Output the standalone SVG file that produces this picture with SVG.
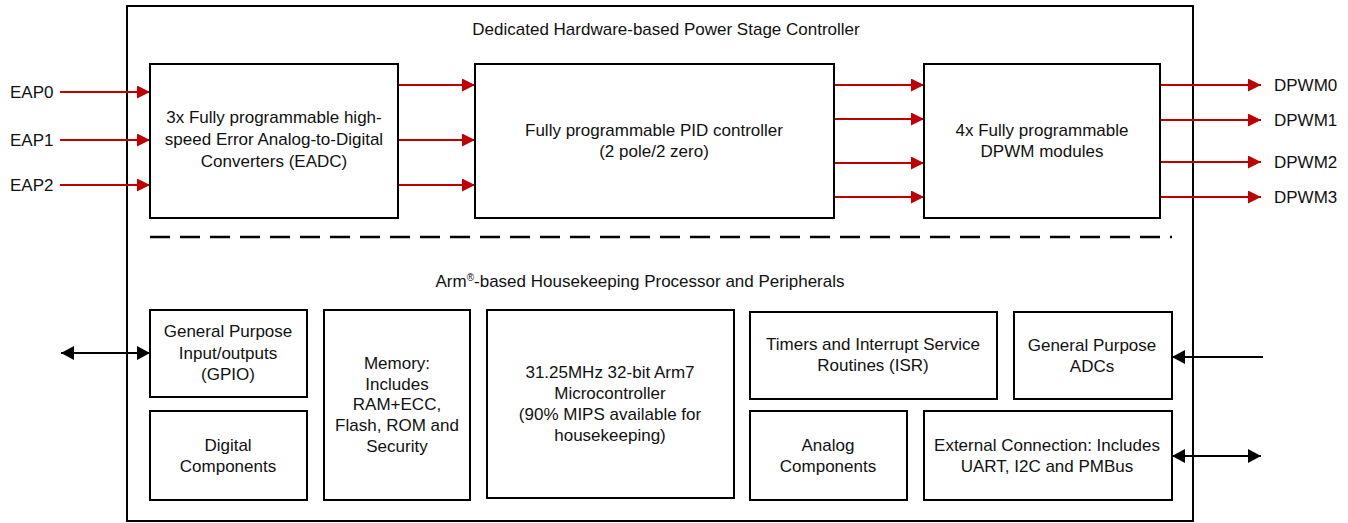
<svg xmlns="http://www.w3.org/2000/svg" width="1348" height="523" viewBox="0 0 1348 523">
<defs>
<style>
.box{fill:#fff;stroke:#000;stroke-width:2}
.t{font-family:"Liberation Sans",Arial,sans-serif;font-size:17px;fill:#111;text-anchor:middle}
.l{font-family:"Liberation Sans",Arial,sans-serif;font-size:17px;fill:#111}
.red{stroke:#C00000;stroke-width:2.2;fill:none}
.blk{stroke:#000;stroke-width:2.2;fill:none}
</style>
<marker id="ar" markerUnits="userSpaceOnUse" markerWidth="14" markerHeight="13" refX="13" refY="6.5" orient="auto">
<path d="M0,0 L13,6.5 L0,13 z" fill="#C00000"/>
</marker>
<marker id="ab" markerUnits="userSpaceOnUse" markerWidth="14" markerHeight="14" refX="13" refY="7" orient="auto-start-reverse">
<path d="M0,0 L13,7 L0,14 z" fill="#000"/>
</marker>
</defs>
<rect width="1348" height="523" fill="#fff"/>
<g id="outer">
<rect x="127" y="6" width="1066" height="515" fill="none" stroke="#000" stroke-width="2"/>
<text class="t" x="666" y="35">Dedicated Hardware-based Power Stage Controller</text>
<line x1="150" y1="237" x2="1172" y2="237" stroke="#000" stroke-width="2.5" stroke-dasharray="20,10"/>
<text class="t" x="640" y="287">Arm<tspan font-size="10" dy="-6">®</tspan><tspan dy="6">-based Housekeeping Processor and Peripherals</tspan></text>
</g>
<g id="connectors">
<line class="red" x1="60" y1="92" x2="150" y2="92" marker-end="url(#ar)"/>
<line class="red" x1="60" y1="140" x2="150" y2="140" marker-end="url(#ar)"/>
<line class="red" x1="60" y1="185" x2="150" y2="185" marker-end="url(#ar)"/>
<line class="red" x1="398" y1="85" x2="475" y2="85" marker-end="url(#ar)"/>
<line class="red" x1="398" y1="140" x2="475" y2="140" marker-end="url(#ar)"/>
<line class="red" x1="398" y1="185" x2="475" y2="185" marker-end="url(#ar)"/>
<line class="red" x1="834" y1="85" x2="924" y2="85" marker-end="url(#ar)"/>
<line class="red" x1="834" y1="119" x2="924" y2="119" marker-end="url(#ar)"/>
<line class="red" x1="834" y1="163" x2="924" y2="163" marker-end="url(#ar)"/>
<line class="red" x1="834" y1="197" x2="924" y2="197" marker-end="url(#ar)"/>
<line class="red" x1="1160" y1="85" x2="1261" y2="85" marker-end="url(#ar)"/>
<line class="red" x1="1160" y1="120" x2="1261" y2="120" marker-end="url(#ar)"/>
<line class="red" x1="1160" y1="162" x2="1261" y2="162" marker-end="url(#ar)"/>
<line class="red" x1="1160" y1="197" x2="1261" y2="197" marker-end="url(#ar)"/>
<line class="blk" x1="61" y1="353" x2="150" y2="353" marker-start="url(#ab)" marker-end="url(#ab)"/>
<line class="blk" x1="1263" y1="357" x2="1172" y2="357" marker-end="url(#ab)"/>
<line class="blk" x1="1172" y1="456" x2="1261" y2="456" marker-start="url(#ab)" marker-end="url(#ab)"/>
</g>
<g id="labels">
<text class="l" x="10" y="98">EAP0</text>
<text class="l" x="10" y="146">EAP1</text>
<text class="l" x="10" y="191">EAP2</text>
<text class="l" x="1274" y="91">DPWM0</text>
<text class="l" x="1274" y="126">DPWM1</text>
<text class="l" x="1274" y="168">DPWM2</text>
<text class="l" x="1274" y="203">DPWM3</text>
</g>
<g id="eadc">
<rect class="box" x="150" y="64" width="248" height="154"/>
<text class="t" x="274" y="123">3x Fully programmable high-</text>
<text class="t" x="274" y="145">speed Error Analog-to-Digital</text>
<text class="t" x="274" y="167">Converters (EADC)</text>
</g>
<g id="pid">
<rect class="box" x="475" y="64" width="359" height="154"/>
<text class="t" x="654" y="136">Fully programmable PID controller</text>
<text class="t" x="654" y="157">(2 pole/2 zero)</text>
</g>
<g id="dpwm">
<rect class="box" x="924" y="64" width="236" height="154"/>
<text class="t" x="1042" y="136">4x Fully programmable</text>
<text class="t" x="1042" y="157">DPWM modules</text>
</g>
<g id="gpio">
<rect class="box" x="150" y="310" width="157" height="87"/>
<text class="t" x="228" y="337">General Purpose</text>
<text class="t" x="228" y="359">Input/outputs</text>
<text class="t" x="228" y="380">(GPIO)</text>
</g>
<g id="digital">
<rect class="box" x="150" y="411" width="157" height="89"/>
<text class="t" x="228" y="451">Digital</text>
<text class="t" x="228" y="472">Components</text>
</g>
<g id="memory">
<rect class="box" x="324" y="310" width="146" height="190"/>
<text class="t" x="397" y="369">Memory:</text>
<text class="t" x="397" y="390">Includes</text>
<text class="t" x="397" y="410">RAM+ECC,</text>
<text class="t" x="397" y="431">Flash, ROM and</text>
<text class="t" x="397" y="452">Security</text>
</g>
<g id="mcu">
<rect class="box" x="487" y="310" width="247" height="188"/>
<text class="t" x="610" y="378">31.25MHz 32-bit Arm7</text>
<text class="t" x="610" y="399">Microcontroller</text>
<text class="t" x="610" y="420">(90% MIPS available for</text>
<text class="t" x="610" y="441">housekeeping)</text>
</g>
<g id="timers">
<rect class="box" x="750" y="312" width="247" height="87"/>
<text class="t" x="873" y="350">Timers and Interrupt Service</text>
<text class="t" x="873" y="371">Routines (ISR)</text>
</g>
<g id="gpadc">
<rect class="box" x="1014" y="312" width="158" height="87"/>
<text class="t" x="1092" y="351">General Purpose</text>
<text class="t" x="1092" y="372">ADCs</text>
</g>
<g id="analog">
<rect class="box" x="750" y="411" width="157" height="89"/>
<text class="t" x="828" y="451">Analog</text>
<text class="t" x="828" y="472">Components</text>
</g>
<g id="ext">
<rect class="box" x="924" y="411" width="248" height="89"/>
<text class="t" x="1047" y="451">External Connection: Includes</text>
<text class="t" x="1047" y="472">UART, I2C and PMBus</text>
</g>
</svg>
